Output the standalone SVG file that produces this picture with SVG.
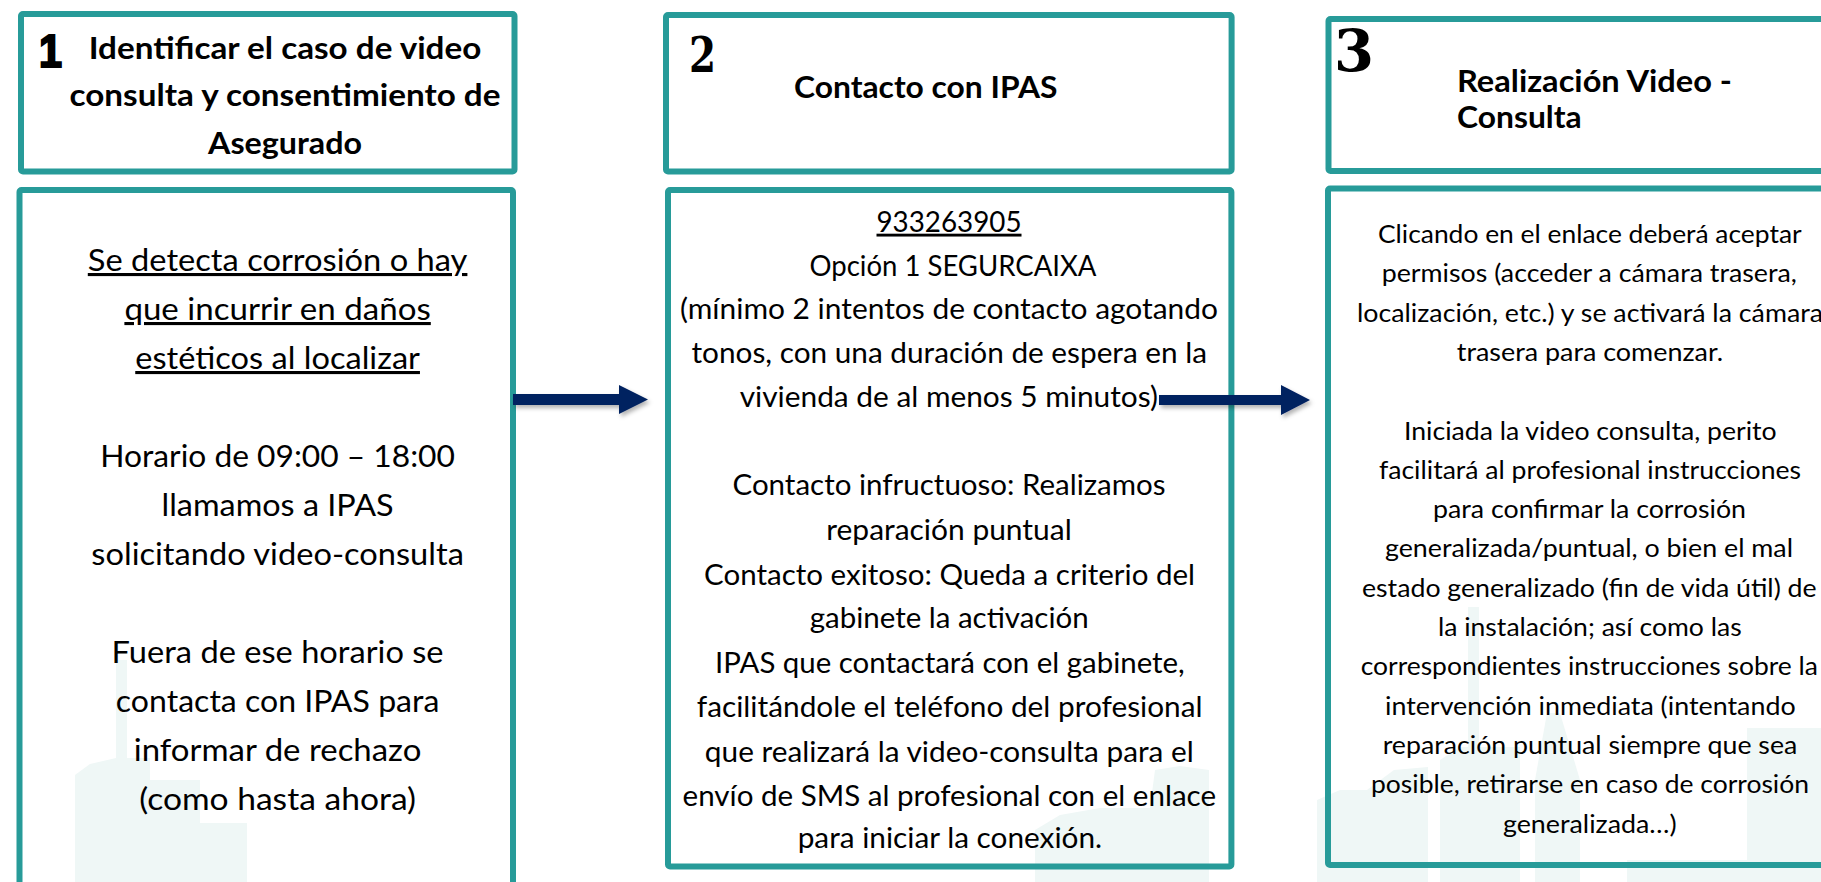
<svg xmlns="http://www.w3.org/2000/svg" width="1821" height="882" viewBox="0 0 1821 882">
<style>
.box{fill:none;stroke:#279B99;stroke-width:6}
.hd{font-family:Lato,"Liberation Sans",sans-serif;font-weight:bold;font-size:31px;fill:#000}
.b1{font-family:Lato,"Liberation Sans",sans-serif;font-size:31px;fill:#000;text-anchor:middle}
.b2{font-family:Lato,"Liberation Sans",sans-serif;font-size:28.5px;fill:#000;text-anchor:middle}
.b3{font-family:Lato,"Liberation Sans",sans-serif;font-size:25.5px;fill:#000;text-anchor:middle}
.u{text-decoration:underline}
.wm{fill:#EFF7F6}
.arrow{fill:#002060}
</style>
<defs>
<filter id="sh" x="-10%" y="-30%" width="130%" height="180%">
<feDropShadow dx="2" dy="3" stdDeviation="2" flood-color="#000" flood-opacity="0.3"/>
</filter>
</defs>
<rect width="1821" height="882" fill="#fff"/>
<g id="watermark">
<rect class="wm" x="116" y="660" width="11" height="222"/>
<polygon class="wm" points="75,882 75,775 90,764 116,758 150,758 150,780 200,780 200,823 247,823 247,882"/>
<polygon class="wm" points="1035,882 1035,830 1060,815 1100,808 1150,808 1155,770 1180,766 1209,770 1209,882"/>
<polygon class="wm" points="1317,882 1317,800 1340,790 1367,790 1394,770 1428,767 1428,882"/>
<rect class="wm" x="1468" y="607" width="11" height="275"/>
<polygon class="wm" points="1440,882 1440,760 1460,747 1520,747 1520,882"/>
<polygon class="wm" points="1535,882 1535,780 1547,713 1560,713 1580,780 1580,882"/>
<rect class="wm" x="1627" y="860" width="120" height="22"/>
<rect class="wm" x="1747" y="728" width="74" height="154"/>
</g>
<g id="node1-header">
<rect class="box" x="21" y="14" width="493.5" height="157.5" rx="2"/>
<text x="39" y="67" font-family="'Liberation Sans',Arial,sans-serif" font-weight="bold" font-size="47" fill="#000" stroke="#000" stroke-width="2.2" textLength="23" lengthAdjust="spacingAndGlyphs">1</text>
<text class="hd" x="285" y="59" text-anchor="middle" textLength="392.6" lengthAdjust="spacingAndGlyphs">Identificar el caso de video</text>
<text class="hd" x="285" y="106" text-anchor="middle" textLength="431" lengthAdjust="spacingAndGlyphs">consulta y consentimiento de</text>
<text class="hd" x="285" y="154" text-anchor="middle" textLength="154" lengthAdjust="spacingAndGlyphs">Asegurado</text>
</g>
<g id="node1-body">
<rect class="box" x="19.5" y="190" width="493.5" height="720" rx="2"/>
<text class="b1 u" x="277.6" y="271" textLength="379.6" lengthAdjust="spacingAndGlyphs">Se detecta corrosión o hay</text>
<text class="b1 u" x="277.6" y="320" textLength="306.4" lengthAdjust="spacingAndGlyphs">que incurrir en daños</text>
<text class="b1 u" x="277.6" y="369" textLength="284.7" lengthAdjust="spacingAndGlyphs">estéticos al localizar</text>
<text class="b1" x="277.6" y="467" textLength="354.7" lengthAdjust="spacingAndGlyphs">Horario de 09:00 – 18:00</text>
<text class="b1" x="277.6" y="516" textLength="232" lengthAdjust="spacingAndGlyphs">llamamos a IPAS</text>
<text class="b1" x="277.6" y="565" textLength="372.5" lengthAdjust="spacingAndGlyphs">solicitando video-consulta</text>
<text class="b1" x="277.6" y="663" textLength="332" lengthAdjust="spacingAndGlyphs">Fuera de ese horario se</text>
<text class="b1" x="277.6" y="712" textLength="323.5" lengthAdjust="spacingAndGlyphs">contacta con IPAS para</text>
<text class="b1" x="277.6" y="761" textLength="287.5" lengthAdjust="spacingAndGlyphs">informar de rechazo</text>
<text class="b1" x="277.6" y="810" textLength="276.8" lengthAdjust="spacingAndGlyphs">(como hasta ahora)</text>
</g>
<g id="node2-header">
<rect class="box" x="666" y="15" width="565.6" height="156.5" rx="2"/>
<text x="689" y="72" font-family="'DejaVu Serif',serif" font-weight="bold" font-size="48" fill="#000" textLength="27" lengthAdjust="spacingAndGlyphs">2</text>
<text class="hd" x="925.75" y="98" text-anchor="middle" textLength="263.5" lengthAdjust="spacingAndGlyphs">Contacto con IPAS</text>
</g>
<g id="node2-body">
<rect class="box" x="668" y="190" width="563.4" height="676.5" rx="2"/>
<text class="b2 u" x="949" y="231.7" textLength="145" lengthAdjust="spacingAndGlyphs">933263905</text>
<text class="b2" x="953" y="275.7" textLength="287" lengthAdjust="spacingAndGlyphs">Opción 1 SEGURCAIXA</text>
<text class="b2" x="949" y="319" textLength="538" lengthAdjust="spacingAndGlyphs">(mínimo 2 intentos de contacto agotando</text>
<text class="b2" x="949.3" y="363" textLength="515.6" lengthAdjust="spacingAndGlyphs">tonos, con una duración de espera en la</text>
<text class="b2" x="948.8" y="407" textLength="418.3" lengthAdjust="spacingAndGlyphs">vivienda de al menos 5 minutos)</text>
<text class="b2" x="949" y="495" textLength="433" lengthAdjust="spacingAndGlyphs">Contacto infructuoso: Realizamos</text>
<text class="b2" x="949" y="540" textLength="245.5" lengthAdjust="spacingAndGlyphs">reparación puntual</text>
<text class="b2" x="949.5" y="585" textLength="491" lengthAdjust="spacingAndGlyphs">Contacto exitoso: Queda a criterio del</text>
<text class="b2" x="949.2" y="628" textLength="279" lengthAdjust="spacingAndGlyphs">gabinete la activación</text>
<text class="b2" x="949.9" y="673" textLength="469.7" lengthAdjust="spacingAndGlyphs">IPAS que contactará con el gabinete,</text>
<text class="b2" x="949.7" y="716.7" textLength="505.8" lengthAdjust="spacingAndGlyphs">facilitándole el teléfono del profesional</text>
<text class="b2" x="949.3" y="761.7" textLength="488.9" lengthAdjust="spacingAndGlyphs">que realizará la video-consulta para el</text>
<text class="b2" x="949.3" y="806" textLength="533.5" lengthAdjust="spacingAndGlyphs">envío de SMS al profesional con el enlace</text>
<text class="b2" x="949.9" y="848" textLength="304.5" lengthAdjust="spacingAndGlyphs">para iniciar la conexión.</text>
</g>
<g id="node3-header">
<rect class="box" x="1328.5" y="19" width="520" height="152" rx="2"/>
<text x="1334" y="71" font-family="'DejaVu Serif',serif" font-weight="bold" font-size="58" fill="#000" textLength="40" lengthAdjust="spacingAndGlyphs">3</text>
<text class="hd" x="1457" y="92" textLength="275" lengthAdjust="spacingAndGlyphs">Realización Video -</text>
<text class="hd" x="1457" y="128" textLength="124.7" lengthAdjust="spacingAndGlyphs">Consulta</text>
</g>
<g id="node3-body">
<rect class="box" x="1328" y="188.5" width="520" height="676.5" rx="2"/>
<text class="b3" x="1589.8" y="243" textLength="423.7" lengthAdjust="spacingAndGlyphs">Clicando en el enlace deberá aceptar</text>
<text class="b3" x="1589.3" y="282.3" textLength="415.3" lengthAdjust="spacingAndGlyphs">permisos (acceder a cámara trasera,</text>
<text class="b3" x="1590" y="321.6" textLength="466" lengthAdjust="spacingAndGlyphs">localización, etc.) y se activará la cámara</text>
<text class="b3" x="1589.9" y="360.9" textLength="266.3" lengthAdjust="spacingAndGlyphs">trasera para comenzar.</text>
<text class="b3" x="1590.3" y="439.5" textLength="372.7" lengthAdjust="spacingAndGlyphs">Iniciada la video consulta, perito</text>
<text class="b3" x="1590" y="478.8" textLength="422" lengthAdjust="spacingAndGlyphs">facilitará al profesional instrucciones</text>
<text class="b3" x="1589.5" y="518.1" textLength="313" lengthAdjust="spacingAndGlyphs">para confirmar la corrosión</text>
<text class="b3" x="1589" y="557.4" textLength="408" lengthAdjust="spacingAndGlyphs">generalizada/puntual, o bien el mal</text>
<text class="b3" x="1589.3" y="596.7" textLength="454.7" lengthAdjust="spacingAndGlyphs">estado generalizado (fin de vida útil) de</text>
<text class="b3" x="1589.8" y="636" textLength="303.7" lengthAdjust="spacingAndGlyphs">la instalación; así como las</text>
<text class="b3" x="1589.3" y="675.3" textLength="457.3" lengthAdjust="spacingAndGlyphs">correspondientes instrucciones sobre la</text>
<text class="b3" x="1590.3" y="714.6" textLength="410.7" lengthAdjust="spacingAndGlyphs">intervención inmediata (intentando</text>
<text class="b3" x="1590" y="753.9" textLength="414.6" lengthAdjust="spacingAndGlyphs">reparación puntual siempre que sea</text>
<text class="b3" x="1590" y="793.2" textLength="438" lengthAdjust="spacingAndGlyphs">posible, retirarse en caso de corrosión</text>
<text class="b3" x="1589.8" y="832.5" textLength="173.7" lengthAdjust="spacingAndGlyphs">generalizada…)</text>
</g>
<g id="connectors" filter="url(#sh)">
<polygon class="arrow" points="513,394 619,394 619,385 648,399.5 619,414 619,405 513,405"/>
<polygon class="arrow" points="1159,395 1281,395 1281,385 1310,400 1281,415 1281,405 1159,405"/>
</g>
</svg>
